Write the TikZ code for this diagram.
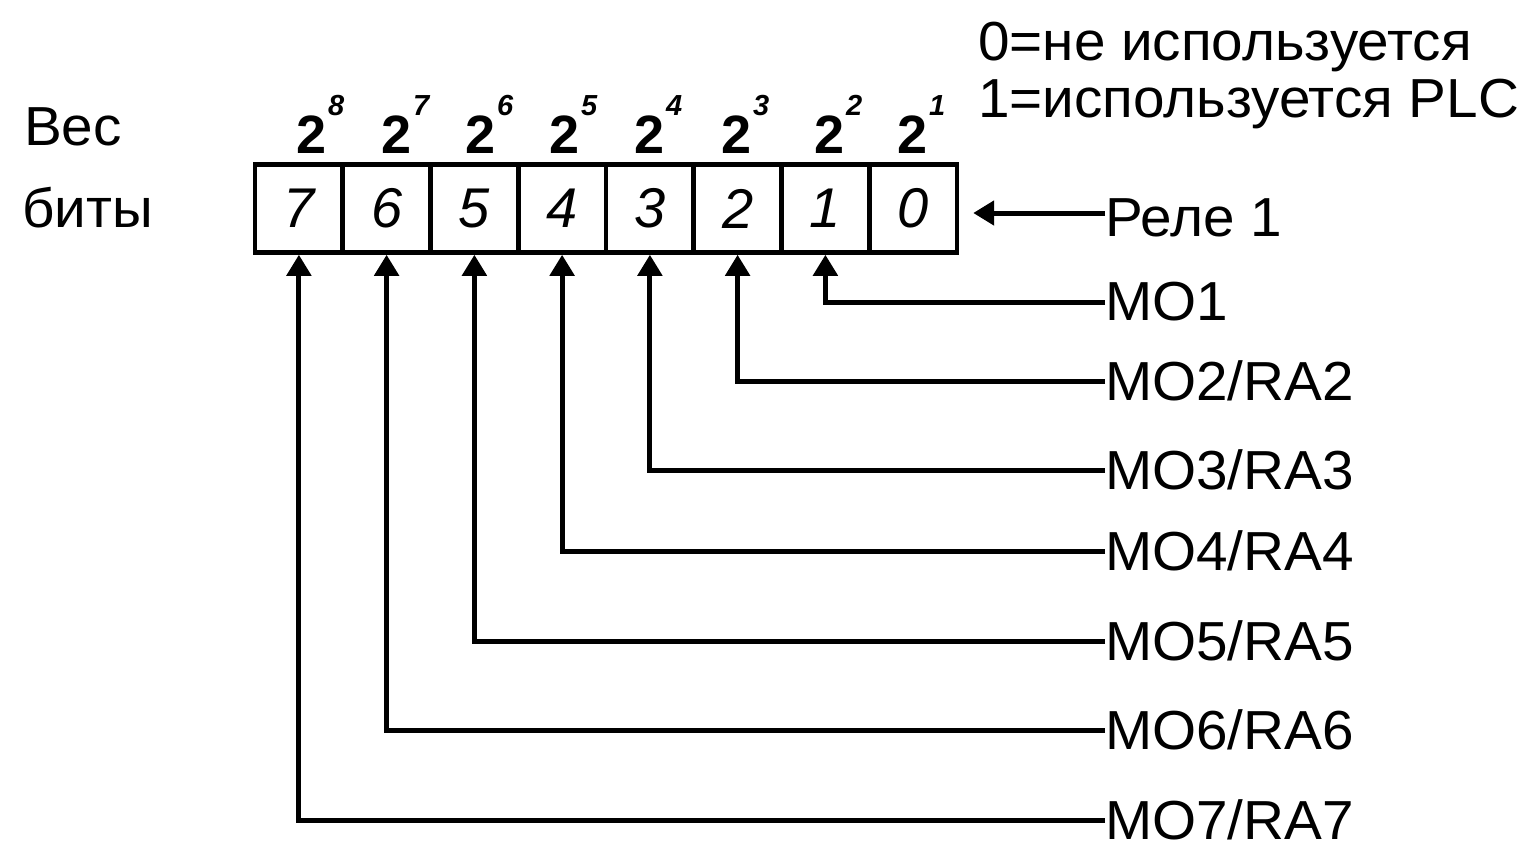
\documentclass[tikz,border=0pt]{standalone}
\usepackage{fontspec}
\setmainfont{Liberation Sans}
\newfontfamily\lblfam{Liberation Sans}[FakeStretch=1.03]
\usetikzlibrary{arrows.meta}
\newcommand\lblfont{\lblfam\fontsize{55}{60}\selectfont}
\newcommand\bitfont{\fontsize{56}{60}\selectfont\itshape}
\newcommand\twofont{\fontsize{54}{58}\selectfont\bfseries}
\newcommand\expfont{\fontsize{29}{32}\selectfont\bfseries\itshape}
\begin{document}
\begin{tikzpicture}[x=1pt,y=-1pt,
  cell/.style={draw, line width=4.5pt, minimum width=87.75pt, minimum height=88pt, inner sep=0pt, font=\bitfont},
  lbl/.style={anchor=west, inner sep=0pt, font=\lblfont},
  txt/.style={anchor=base west, inner sep=0pt, font=\lblfont},
  wt/.style={anchor=base west, inner sep=0pt, font=\twofont},
  conn/.style={line width=5pt, -{Triangle[length=21pt,width=24pt]}}
]
\useasboundingbox (0,0) rectangle (1528,841);
% left labels
\node[txt] (ves) at (24,145) {Вес};
\node[txt] (bity) at (22,227) {биты};
% top-right legend
\node[txt] (leg0) at (978,60) {0=не используется};
\node[txt] (leg1) at (978,117) {1=используется PLC};
% cells
\foreach \i/\x in {7/298.9,6/386.6,5/474.4,4/562.1,3/649.9,2/737.6,1/825.4,0/913.1}{
  \node[cell] (c\i) at (\x,208.5) {\i};
}
% weights
\foreach \n/\x in {8/296,7/381,6/465,5/549,4/634,3/721,2/814,1/897}{
  \node[wt] (w\n) at (\x,153) {2\hspace{2pt}\raisebox{38pt}{\expfont\n}};
}
% right labels
\node[lbl] (rele) at (1105,218) {Реле 1};
\node[lbl] (mo1) at (1105,302) {MO1};
\node[lbl] (mo2) at (1105,381) {MO2/RA2};
\node[lbl] (mo3) at (1105,470) {MO3/RA3};
\node[lbl] (mo4) at (1105,551) {MO4/RA4};
\node[lbl] (mo5) at (1105,641) {MO5/RA5};
\node[lbl] (mo6) at (1105,730) {MO6/RA6};
\node[lbl] (mo7) at (1105,820) {MO7/RA7};
% connectors
\draw[conn, shorten >=14pt] ([yshift=5pt]rele.west) -- ([yshift=5pt]rele.west -| c0.east);
\draw[conn] (mo1.west) -| (c1.south);
\draw[conn] (mo2.west) -| (c2.south);
\draw[conn] (mo3.west) -| (c3.south);
\draw[conn] (mo4.west) -| (c4.south);
\draw[conn] (mo5.west) -| (c5.south);
\draw[conn] (mo6.west) -| (c6.south);
\draw[conn] (mo7.west) -| (c7.south);
\end{tikzpicture}
\end{document}
